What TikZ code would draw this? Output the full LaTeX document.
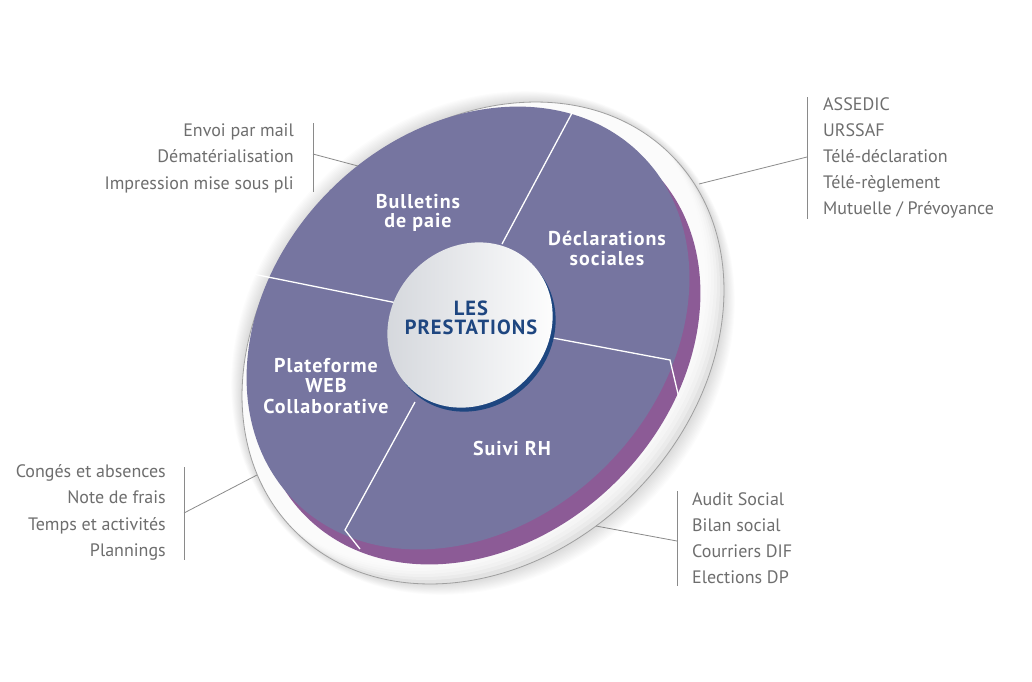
\documentclass[tikz,border=0pt]{standalone}
\usepackage{fontspec}
\setmainfont{PT Sans}
\newfontfamily\segfont[LetterSpace=5]{PT Sans}
\definecolor{face}{HTML}{7675A0}
\definecolor{side}{HTML}{8C5B96}
\definecolor{navy}{HTML}{1E4680}
\definecolor{txt}{HTML}{6E6E6E}
\definecolor{rulec}{HTML}{8A8A8A}
\definecolor{discl}{HTML}{D3D6DB}
\definecolor{platec}{HTML}{E2E2E2}
\begin{document}
\begin{tikzpicture}[x=1pt,y=-1pt,
  seglabel/.style={font=\segfont\bfseries\fontsize{20}{20}\selectfont, text=white, anchor=base, inner sep=0pt},
  corelabel/.style={font=\segfont\bfseries\fontsize{20.5}{20}\selectfont, text=navy, anchor=base, inner sep=0pt},
  itemR/.style={font=\fontsize{18}{18}\selectfont, text=txt, anchor=base east, inner sep=0pt},
  itemL/.style={font=\fontsize{18}{18}\selectfont, text=txt, anchor=base west, inner sep=0pt},
  bracket/.style={draw=rulec, line width=0.8pt},
  divider/.style={draw=white, line width=1.3pt}]
\useasboundingbox (0,0) rectangle (1032,681);
\fill[white] (0,0) rectangle (1032,681);
% soft shadow (upper-left and lower-right)
\foreach \i in {1,...,12}{
  \pgfmathsetmacro\ra{266+0.5*\i}
  \pgfmathsetmacro\rb{213+1.4*\i}
  \fill[black,opacity=0.012,rotate around={45:(483,343)}] (483,343) ellipse [x radius=\ra, y radius=\rb];
}
% plate
\begin{scope}
  \clip[rotate around={45:(483,343)}] (483,343) ellipse [x radius=266, y radius=213];
  \fill[platec] (0,0) rectangle (1032,681);
  \foreach \j in {0,...,5}{
    \pgfmathsetmacro\cx{479-3*\j}
    \pgfmathsetmacro\cy{339-3*\j}
    \fill[white,opacity=0.33,rotate around={45:(\cx,\cy)}] (\cx,\cy) ellipse [x radius=266, y radius=213];
  }
\end{scope}
\draw[gray!75,line width=0.8pt,rotate around={45:(483,343)}] (483,343) ellipse [x radius=266, y radius=213];
% side of disk
\fill[side,rotate around={45:(479,343)}] (479,343) ellipse [x radius=245, y radius=195];
% top face
\fill[face,rotate around={45:(468,328)}] (468,328) ellipse [x radius=245, y radius=195];
% dividers
\draw[divider] (572,113) -- (502,244);
\draw[divider] (243,272) -- (397,303);
\draw[divider] (553,338) -- (670,360) -- (679,398);
\draw[divider] (415,402) -- (345,530) -- (360,549);
% center disc
\fill[navy,rotate around={45:(473,329)}] (473,329) ellipse [x radius=87, y radius=78];
\shade[left color=discl, right color=white, rotate around={45:(470,325)}] (470,325) ellipse [x radius=87, y radius=78];
% center text
\node[corelabel] (les) at (471,315) {LES};
\node[corelabel] (prest) at (471,334) {PRESTATIONS};
% segment labels
\node[seglabel] (bul1) at (418,208) {Bulletins};
\node[seglabel] (bul2) at (418,227) {de paie};
\node[seglabel] (dec1) at (607,245) {Déclarations};
\node[seglabel] (dec2) at (607,265) {sociales};
\node[seglabel] (pla1) at (326,372) {Plateforme};
\node[seglabel] (pla2) at (326,392) {WEB};
\node[seglabel] (pla3) at (326,413) {Collaborative};
\node[seglabel] (rh) at (512,455) {Suivi RH};
% group 1
\node[itemR] (g1a) at (294,136) {Envoi par mail};
\node[itemR] (g1b) at (294,162.5) {Dématérialisation};
\node[itemR] (g1c) at (294,189) {Impression mise sous pli};
\coordinate (b1t) at (313,123); \coordinate (b1b) at (313,192);
\coordinate (b1m) at (313,154); \coordinate (e1) at (358,166);
\draw[bracket] (b1t) -- (b1b);
\draw[bracket] (b1m) -- (e1);
% group 2
\node[itemL] (g2a) at (823,110) {ASSEDIC};
\node[itemL] (g2b) at (823,136) {URSSAF};
\node[itemL] (g2c) at (823,162) {Télé-déclaration};
\node[itemL] (g2d) at (823,188) {Télé-règlement};
\node[itemL] (g2e) at (823,214) {Mutuelle / Prévoyance};
\coordinate (b2t) at (807,97); \coordinate (b2b) at (807,219);
\coordinate (b2m) at (807,157); \coordinate (e2) at (699,184);
\draw[bracket] (b2t) -- (b2b);
\draw[bracket] (b2m) -- (e2);
% group 3
\node[itemR] (g3a) at (166,477) {Congés et absences};
\node[itemR] (g3b) at (166,503) {Note de frais};
\node[itemR] (g3c) at (166,530) {Temps et activités};
\node[itemR] (g3d) at (166,556) {Plannings};
\coordinate (b3t) at (184,467); \coordinate (b3b) at (184,560);
\coordinate (b3m) at (184,513); \coordinate (e3) at (257,475);
\draw[bracket] (b3t) -- (b3b);
\draw[bracket] (b3m) -- (e3);
% group 4
\node[itemL] (g4a) at (692,505) {Audit Social};
\node[itemL] (g4b) at (692,531) {Bilan social};
\node[itemL] (g4c) at (692,557) {Courriers DIF};
\node[itemL] (g4d) at (692,583) {Elections DP};
\coordinate (b4t) at (677,491); \coordinate (b4b) at (677,586);
\coordinate (b4m) at (677,541); \coordinate (e4) at (596,526);
\draw[bracket] (b4t) -- (b4b);
\draw[bracket] (b4m) -- (e4);
\end{tikzpicture}
\end{document}
